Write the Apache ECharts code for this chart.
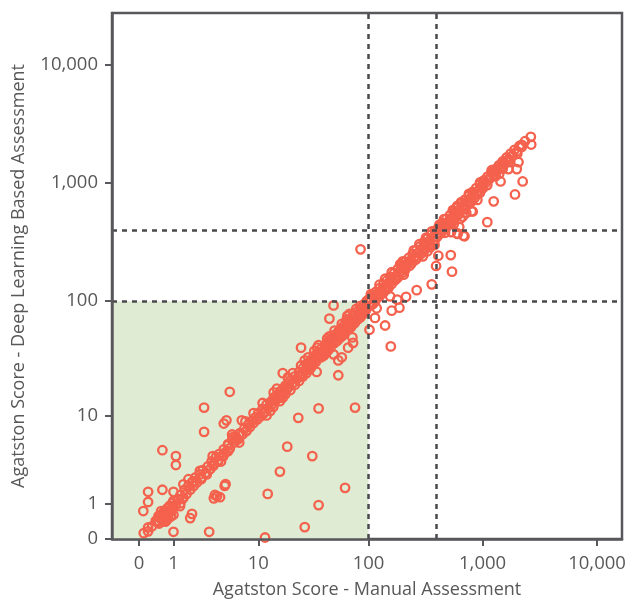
<!DOCTYPE html>
<html>
<head>
<meta charset="utf-8">
<script src="https://cdn.jsdelivr.net/npm/echarts@6/dist/echarts.min.js"></script>
<style>html,body{margin:0;padding:0;background:#fff;}#c{width:629px;height:604px;}</style>
</head>
<body>
<div id="c"></div>
<script>
// Tick labels (Agatston score) and threshold lines
const tickValues = [0, 1, 10, 100, 1000, 10000];
const thresholds = [100, 400];
const xName = 'Agatston Score - Manual Assessment';
const yName = 'Agatston Score - Deep Learning Based Assessment';

// [manual, deep learning] pairs
const bandLow = [[0.1,0.12],[0.2,0.25],[0.3,0.28],[0.4,0.42],[0.45,0.38],[0.5,0.55],[0.55,0.48],[0.6,0.62],[0.65,0.5],[0.7,0.72],[0.7,0.6],[0.75,0.8],[0.8,0.65],[0.85,0.9],[0.9,0.75],[0.95,1.0],[1.0,0.85],[1.0,1.1],[1.1,0.95],[1.2,1.15],[1.3,1.0],[1.3,1.35],[1.4,1.2],[1.5,1.6],[1.6,1.4],[1.7,1.8],[1.8,1.6],[1.9,2.0],[2.0,1.8],[2.1,2.3],[2.2,2.0],[2.4,2.5],[2.5,2.2],[2.6,2.8],[2.8,2.6],[3.0,3.1],[3.2,2.9],[3.3,3.5],[3.5,3.3],[3.7,3.9],[3.9,3.6],[4.0,4.2],[4.3,4.0],[4.5,4.7],[4.7,4.4],[5.0,5.2],[5.2,4.8],[5.5,5.8],[5.8,5.5],[6.0,6.3],[6.3,5.9],[6.6,6.8],[7.0,6.6],[7.3,7.5],[7.6,7.1],[8.0,8.2],[8.3,7.8],[8.7,8.9],[9.0,8.5],[9.4,9.6],[9.8,9.2],[0.5,0.35],[0.6,0.45],[0.7,0.4],[0.8,0.5],[0.9,0.55],[0.65,0.7],[0.55,0.6],[0.75,0.45],[1.0,0.6],[0.43,0.41],[0.48,0.56],[0.56,0.72],[0.69,0.61],[0.93,0.72],[1.28,0.89],[1.2,1.16],[1.44,1.22],[1.44,1.89],[1.7,2.19],[1.98,2.08],[2.4,2.75],[2.5,2.3],[2.9,2.5],[3.46,3.14],[3.9,3.5],[4.45,4.0],[5.0,4.5],[5.0,5.3],[5.6,6.2],[6.1,6.0],[6.6,6.7],[7.7,7.2],[9,10.5],[7.5,8.8],[6.5,5.5],[5.5,6.6],[4.2,3.5],[3.4,4.0]];
const bandMid = [[10,10.5],[10.5,9.8],[11,11.5],[11.5,10.8],[12,12.6],[12.5,11.7],[13,13.2],[13.5,12.6],[14,14.5],[14.5,13.6],[15,15.3],[15.5,14.4],[16,16.5],[16.5,15.3],[17,17.2],[17.5,16.3],[18,18.6],[18.5,17.3],[19,19.5],[19.5,18.2],[20,20.6],[21,19.6],[22,22.5],[23,21.5],[24,24.6],[25,23.4],[26,26.5],[27,25.2],[28,28.7],[29,27.0],[30,30.5],[31,29.0],[32,32.6],[33,31.0],[34,34.8],[35,32.6],[36,36.5],[37,34.8],[38,39],[40,37.5],[41,42],[42,39.5],[44,45],[45,42.5],[47,48],[48,45],[50,51.5],[52,49],[54,55],[55,52],[57,58.5],[59,55.5],[61,62.5],[63,59],[65,66.5],[67,63],[69,71],[72,68],[74,76],[77,72],[80,82],[82,77],[85,87],[88,83],[91,94],[94,88],[97,100],[12,10],[15,17.5],[20,17],[25,28],[30,26],[35,40],[40,34],[45,50],[50,44],[60,52],[65,75],[70,60],[80,70],[90,78],[24,20.5],[14,16.2],[18,15.6],[28,24],[33,37.5],[38,33],[55,48],[75,65],[85,73],[11.2,10.4],[13.9,12],[16,14.7],[18.5,17.5],[24.5,22.3],[28,25.5],[32,29.3],[37,35.8],[45.6,46.7],[56,57],[64,69.6],[73.5,76.8],[84,90.6],[96.5,100],[11,13],[13,11],[16,13.5],[19,22],[22,19],[26,22.5],[27,31],[31,27],[34,30],[36,42],[39,35],[42,36],[43,48],[46,40],[50,56],[53,46],[58,50],[58,64],[62,54],[66,58],[68,78],[71,62],[76,66],[78,86],[83,72],[87,76],[92,80],[95,84],[44,38],[29,33],[21,24],[17,14.5]];
const bandHigh = [[100,103],[104,98],[108,112],[112,106],[116,120],[120,113],[125,129],[130,122],[135,139],[140,132],[145,150],[150,141],[156,161],[162,152],[168,173],[175,164],[181,187],[188,177],[195,201],[202,190],[210,216],[218,205],[226,233],[235,221],[244,251],[253,238],[263,271],[273,257],[284,292],[295,278],[306,315],[318,300],[330,340],[343,323],[356,367],[370,349],[384,396],[399,376],[414,427],[430,405],[447,460],[464,437],[482,497],[500,471],[520,535],[540,508],[560,577],[582,548],[605,622],[628,590],[652,672],[677,636],[703,725],[730,686],[758,780],[787,740],[817,840],[848,796],[880,905],[914,858],[950,975],[985,925],[1025,1050],[1065,1000],[1105,1130],[1150,1080],[1195,1220],[1240,1165],[1290,1310],[1340,1260],[1390,1410],[1450,1360],[1500,1520],[1560,1460],[1620,1640],[1690,1580],[1760,1770],[1830,1700],[1900,1900],[2000,1850],[2100,2050],[2200,2100],[2350,2250],[110,95],[130,115],[150,130],[170,150],[200,175],[230,200],[260,225],[300,260],[350,305],[400,350],[450,400],[500,440],[600,530],[700,610],[800,700],[900,800],[1000,900],[140,155],[190,205],[250,270],[320,345],[420,445],[550,590],[650,690],[1235,1225],[1115,1075],[1005,975],[795,750],[740,700],[695,635],[565,555],[460,425],[403,400],[377,327],[350,287],[317,307],[287,251],[250,235],[218,206],[190,206],[204,168],[178,157],[155,148],[140,129],[126,121],[110,113],[103,106],[530,487],[625,425],[105,92],[115,101],[125,110],[135,118],[145,126],[160,140],[180,158],[210,185],[240,210],[270,235],[310,270],[340,295],[380,330],[430,375],[480,420],[520,455],[560,495],[620,545],[680,600],[760,665],[850,745],[950,830],[1100,960],[1300,1140],[1500,1320],[1700,1500],[105,115],[125,138],[160,176],[200,218],[280,305],[360,390],[460,495],[600,640],[760,810],[950,1010],[1200,1280],[470,380],[560,450],[640,500],[380,300],[330,265],[300,240],[720,560],[900,720],[1400,1200]];
const outliers = [[85,275],[0.6,4.6],[1.1,4.0],[1.1,3.2],[2.7,11.8],[2.7,7.0],[5.2,16.4],[4.8,9],[4.5,8.4],[6.9,9],[0.2,1.5],[0.2,1.05],[0.09,0.72],[0.6,1.6],[1.0,1.5],[36,11.6],[76,11.8],[23.6,9.5],[18.7,5.0],[31.6,4.0],[16,2.7],[62,1.7],[12.3,1.4],[36,0.93],[27,0.26],[11.6,0.03],[3.1,0.15],[1.0,0.15],[0.2,0.16],[1.8,0.5],[1.9,0.63],[3.5,1.2],[3.8,1.3],[4.1,1.25],[3.6,1.35],[4.6,1.8],[4.7,1.9],[17,24],[25,40],[54,23],[49,92],[45,71],[140,62],[157,41],[114,72],[102,57],[72,49],[58,33],[54,31],[49,35],[73,44],[66,40],[34.6,24.6],[2240,1030],[1920,800],[1435,1030],[1250,700],[1100,467],[540,178],[527,246],[410,243],[392,199],[359,139],[265,124],[214,109],[187,88],[160,83],[179,103],[155,110],[118,87],[680,359],[602,372],[803,576],[695,355],[605,375],[530,385],[670,520],[820,575],[1990,1310],[1680,1310],[2060,1500],[2660,2110],[2640,2450],[2200,2010],[2010,1770],[1620,1545],[1465,1450]];

const tf = v => Math.log10(v + 1);
const fmt = v => Math.round(Math.pow(10, v) - 1).toLocaleString('en-US');
const tickPos = tickValues.map(tf);
const allPts = bandLow.concat(bandMid, bandHigh, outliers).map(p => [tf(p[0]), tf(p[1])]);

const axisColor = '#58585c';
const textColor = '#58585a';
const font = '"Open Sans", "Noto Sans", sans-serif';
const X_MIN = -0.236, X_MAX = 4.218, Y_MIN = 0, Y_MAX = 4.433;

function axis(name, min, max, gap, lblMargin) {
  return {
    type: 'value', min: min, max: max, z: 5,
    name: name, nameLocation: 'middle', nameGap: gap,
    nameTextStyle: {color: textColor, fontSize: 18, fontFamily: font},
    axisLine: {show: true, onZero: false, lineStyle: {color: axisColor, width: 2.5}},
    axisTick: {show: true, inside: false, length: 7, customValues: tickPos, lineStyle: {color: axisColor, width: 2}},
    axisLabel: {customValues: tickPos, formatter: fmt, color: textColor, fontSize: 18.5, fontFamily: font, margin: lblMargin},
    splitLine: {show: false}
  };
}

const chart = echarts.init(document.getElementById('c'), null, {renderer: 'canvas'});
chart.setOption({
  animation: false,
  backgroundColor: '#fff',
  grid: {left: 112, right: 7, top: 13, bottom: 62, show: true, borderColor: axisColor, borderWidth: 2.5, containLabel: false},
  xAxis: axis(xName, X_MIN, X_MAX, 42, 15),
  yAxis: axis(yName, Y_MIN, Y_MAX, 84, 14),
  series: [
    {
      type: 'scatter', data: [], z: 1, silent: true,
      markArea: {silent: true, itemStyle: {color: '#dfebd3'},
        data: [[{coord: [X_MIN, Y_MIN]}, {coord: [tf(thresholds[0]), tf(thresholds[0])]}]]},
      markLine: {silent: true, symbol: 'none', label: {show: false},
        lineStyle: {color: '#4a4a4e', width: 2.5, type: [5, 5]},
        data: thresholds.map(t => ({xAxis: tf(t)})).concat(thresholds.map(t => ({yAxis: tf(t)})))}
    },
    {
      type: 'scatter', z: 3, data: allPts, symbol: 'circle', symbolSize: 8.5,
      itemStyle: {color: 'rgba(0,0,0,0)', borderColor: '#f4614d', borderWidth: 2.3, opacity: 1}
    }
  ]
});
</script>
</body>
</html>
